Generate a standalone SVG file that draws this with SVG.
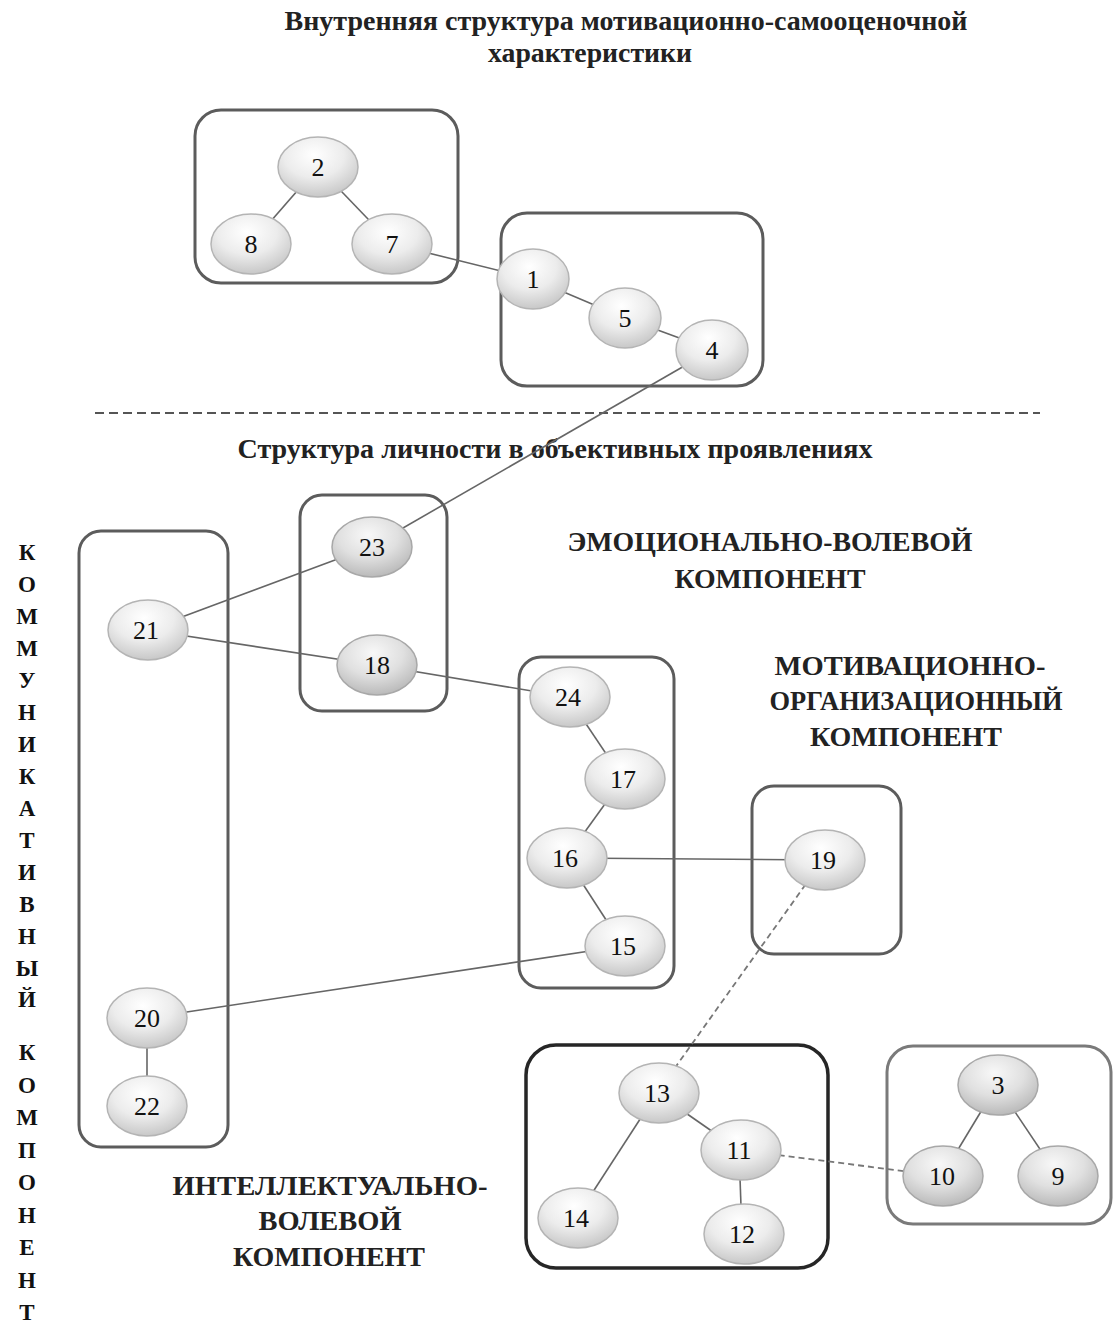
<svg xmlns="http://www.w3.org/2000/svg" width="1114" height="1323" viewBox="0 0 1114 1323">
<defs>
<radialGradient id="gl" cx="45%" cy="30%" r="75%">
<stop offset="0" stop-color="#ffffff"/>
<stop offset="0.5" stop-color="#ececec"/>
<stop offset="1" stop-color="#c2c2c2"/>
</radialGradient>
<radialGradient id="gd" cx="45%" cy="30%" r="75%">
<stop offset="0" stop-color="#f8f8f8"/>
<stop offset="0.5" stop-color="#e0e0e0"/>
<stop offset="1" stop-color="#b4b4b4"/>
</radialGradient>
<style>
.box{fill:none;stroke:#5c5c5c;stroke-width:3}
.boxk{fill:none;stroke:#262626;stroke-width:3.5}
.boxl{fill:none;stroke:#7a7a7a;stroke-width:3}
.n ellipse{fill:url(#gl);stroke:#b4b4b4;stroke-width:1.5}
.d ellipse{fill:url(#gd);stroke:#a8a8a8;stroke-width:1.5}
.n text,.d text{font-family:"Liberation Serif",serif;font-size:26px;fill:#111;text-anchor:middle}
.e{stroke:#666;stroke-width:1.6;fill:none}
.ed{stroke:#777;stroke-width:1.8;fill:none;stroke-dasharray:6 4}
.t{font-family:"Liberation Serif",serif;font-weight:bold;fill:#222;text-anchor:middle}
.v{font-family:"Liberation Serif",serif;font-weight:bold;font-size:23px;fill:#111;text-anchor:middle}
</style>
</defs>
<rect width="1114" height="1323" fill="#ffffff"/>

<g id="titles">
<text class="t" x="626" y="30" font-size="27" textLength="683" lengthAdjust="spacingAndGlyphs">Внутренняя структура мотивационно-самооценочной</text>
<text class="t" x="590" y="62" font-size="27" textLength="204" lengthAdjust="spacingAndGlyphs">характеристики</text>
<text class="t" x="555" y="458" font-size="27" textLength="635" lengthAdjust="spacingAndGlyphs">Структура личности в объективных проявлениях</text>
<text class="t" x="770" y="551" font-size="28" textLength="405" lengthAdjust="spacingAndGlyphs">ЭМОЦИОНАЛЬНО-ВОЛЕВОЙ</text>
<text class="t" x="770" y="588" font-size="28" textLength="191" lengthAdjust="spacingAndGlyphs">КОМПОНЕНТ</text>
<text class="t" x="910" y="675" font-size="28" textLength="271" lengthAdjust="spacingAndGlyphs">МОТИВАЦИОННО-</text>
<text class="t" x="916" y="710" font-size="28" textLength="293" lengthAdjust="spacingAndGlyphs">ОРГАНИЗАЦИОННЫЙ</text>
<text class="t" x="906" y="746" font-size="28" textLength="192" lengthAdjust="spacingAndGlyphs">КОМПОНЕНТ</text>
<text class="t" x="330" y="1195" font-size="28" textLength="315" lengthAdjust="spacingAndGlyphs">ИНТЕЛЛЕКТУАЛЬНО-</text>
<text class="t" x="330" y="1230" font-size="28" textLength="143" lengthAdjust="spacingAndGlyphs">ВОЛЕВОЙ</text>
<text class="t" x="329" y="1266" font-size="28" textLength="192" lengthAdjust="spacingAndGlyphs">КОМПОНЕНТ</text>
</g>

<g id="vertical-label">
<text class="v" x="27" y="560">К</text>
<text class="v" x="27" y="592">О</text>
<text class="v" x="27" y="624">М</text>
<text class="v" x="27" y="656">М</text>
<text class="v" x="27" y="688">У</text>
<text class="v" x="27" y="720">Н</text>
<text class="v" x="27" y="752">И</text>
<text class="v" x="27" y="784">К</text>
<text class="v" x="27" y="816">А</text>
<text class="v" x="27" y="848">Т</text>
<text class="v" x="27" y="880">И</text>
<text class="v" x="27" y="912">В</text>
<text class="v" x="27" y="944">Н</text>
<text class="v" x="27" y="976">Ы</text>
<text class="v" x="27" y="1007">Й</text>
<text class="v" x="27" y="1060">К</text>
<text class="v" x="27" y="1093">О</text>
<text class="v" x="27" y="1125">М</text>
<text class="v" x="27" y="1158">П</text>
<text class="v" x="27" y="1190">О</text>
<text class="v" x="27" y="1223">Н</text>
<text class="v" x="27" y="1255">Е</text>
<text class="v" x="27" y="1288">Н</text>
<text class="v" x="27" y="1320">Т</text>
</g>

<line id="divider" x1="95" y1="413" x2="1040" y2="413" stroke="#555" stroke-width="2" stroke-dasharray="9 5"/>

<g id="groups">
<rect id="box-a" class="box" x="195" y="110" width="263" height="173" rx="26"/>
<rect id="box-b" class="box" x="501" y="213" width="262" height="173" rx="26"/>
<rect id="box-c" class="box" x="300" y="495" width="147" height="216" rx="22"/>
<rect id="box-d" class="box" x="79" y="531" width="149" height="616" rx="22"/>
<rect id="box-e" class="box" x="519" y="657" width="155" height="331" rx="22"/>
<rect id="box-f" class="box" x="752" y="786" width="149" height="168" rx="22"/>
<rect id="box-g" class="boxk" x="526" y="1045" width="302" height="223" rx="30"/>
<rect id="box-h" class="boxl" x="887" y="1046" width="224" height="178" rx="26"/>
</g>

<g id="connectors">
<line class="e" x1="318" y1="167" x2="251" y2="244"/>
<line class="e" x1="318" y1="167" x2="392" y2="244"/>
<line class="e" x1="392" y1="244" x2="533" y2="279"/>
<line class="e" x1="533" y1="279" x2="625" y2="318"/>
<line class="e" x1="625" y1="318" x2="712" y2="350"/>
<line class="e" x1="712" y1="350" x2="370" y2="547"/>
<line class="e" x1="147" y1="630" x2="370" y2="547"/>
<line class="e" x1="147" y1="630" x2="376" y2="665"/>
<line class="e" x1="376" y1="665" x2="568" y2="697"/>
<line class="e" x1="568" y1="697" x2="623" y2="779"/>
<line class="e" x1="623" y1="779" x2="566" y2="858"/>
<line class="e" x1="566" y1="858" x2="823" y2="860"/>
<line class="e" x1="566" y1="858" x2="623" y2="946"/>
<line class="e" x1="623" y1="946" x2="147" y2="1018"/>
<line class="e" x1="147" y1="1018" x2="147" y2="1106"/>
<line class="ed" x1="823" y1="860" x2="657" y2="1093"/>
<line class="e" x1="657" y1="1093" x2="739" y2="1150"/>
<line class="e" x1="657" y1="1093" x2="576" y2="1218"/>
<line class="e" x1="739" y1="1150" x2="742" y2="1234"/>
<line class="ed" x1="739" y1="1150" x2="942" y2="1176"/>
<line class="e" x1="997" y1="1085" x2="942" y2="1176"/>
<line class="e" x1="997" y1="1085" x2="1058" y2="1176"/>
</g>

<g id="node-2" class="n"><ellipse cx="318" cy="167" rx="40" ry="30"/><text x="318" y="176">2</text></g>
<g id="node-8" class="n"><ellipse cx="251" cy="244" rx="40" ry="30"/><text x="251" y="253">8</text></g>
<g id="node-7" class="n"><ellipse cx="392" cy="244" rx="40" ry="30"/><text x="392" y="253">7</text></g>
<g id="node-1" class="n"><ellipse cx="533" cy="279" rx="36" ry="30"/><text x="533" y="288">1</text></g>
<g id="node-5" class="n"><ellipse cx="625" cy="318" rx="36" ry="30"/><text x="625" y="327">5</text></g>
<g id="node-4" class="n"><ellipse cx="712" cy="350" rx="36" ry="30"/><text x="712" y="359">4</text></g>
<g id="node-23" class="d"><ellipse cx="372" cy="547" rx="40" ry="30"/><text x="372" y="556">23</text></g>
<g id="node-18" class="d"><ellipse cx="377" cy="665" rx="40" ry="30"/><text x="377" y="674">18</text></g>
<g id="node-21" class="n"><ellipse cx="148" cy="630" rx="40" ry="30"/><text x="146" y="639">21</text></g>
<g id="node-20" class="n"><ellipse cx="147" cy="1018" rx="40" ry="30"/><text x="147" y="1027">20</text></g>
<g id="node-22" class="n"><ellipse cx="147" cy="1106" rx="40" ry="30"/><text x="147" y="1115">22</text></g>
<g id="node-24" class="n"><ellipse cx="570" cy="697" rx="40" ry="30"/><text x="568" y="706">24</text></g>
<g id="node-17" class="n"><ellipse cx="625" cy="779" rx="40" ry="30"/><text x="623" y="788">17</text></g>
<g id="node-16" class="n"><ellipse cx="567" cy="858" rx="40" ry="30"/><text x="565" y="867">16</text></g>
<g id="node-15" class="n"><ellipse cx="625" cy="946" rx="40" ry="30"/><text x="623" y="955">15</text></g>
<g id="node-19" class="n"><ellipse cx="825" cy="860" rx="40" ry="30"/><text x="823" y="869">19</text></g>
<g id="node-13" class="n"><ellipse cx="659" cy="1093" rx="40" ry="30"/><text x="657" y="1102">13</text></g>
<g id="node-11" class="n"><ellipse cx="741" cy="1150" rx="40" ry="30"/><text x="739" y="1159">11</text></g>
<g id="node-14" class="n"><ellipse cx="578" cy="1218" rx="40" ry="30"/><text x="576" y="1227">14</text></g>
<g id="node-12" class="n"><ellipse cx="744" cy="1234" rx="40" ry="30"/><text x="742" y="1243">12</text></g>
<g id="node-3" class="d"><ellipse cx="998" cy="1085" rx="40" ry="30"/><text x="998" y="1094">3</text></g>
<g id="node-10" class="d"><ellipse cx="943" cy="1176" rx="40" ry="30"/><text x="942" y="1185">10</text></g>
<g id="node-9" class="d"><ellipse cx="1058" cy="1176" rx="40" ry="30"/><text x="1058" y="1185">9</text></g>
</svg>
